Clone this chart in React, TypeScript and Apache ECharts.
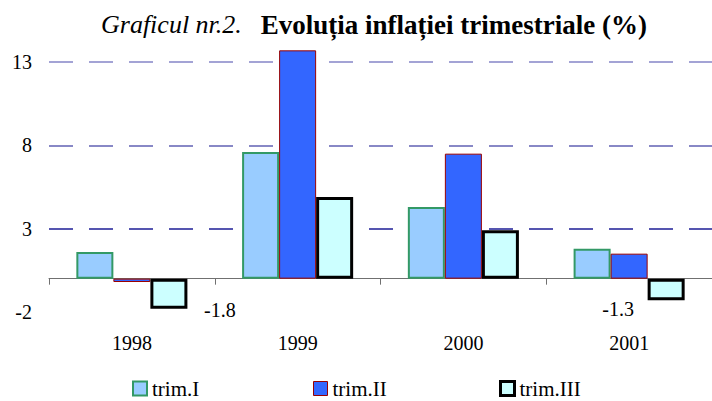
import React, { useEffect, useRef } from 'react';
import * as echarts from 'echarts';

const years = ['1998', '1999', '2000', '2001'];
const seriesNames = ['trim.I', 'trim.II', 'trim.III'];
const trimI = [1.6, 7.6, 4.3, 1.8];
const trimII = [-0.2, 13.7, 7.5, 1.5];
const trimIII = [-1.8, 4.9, 2.9, -1.3];
const yMin = -2;
const yMax = 13;
const yInterval = 5;

const FONT = "'Liberation Serif', 'Times New Roman', serif";

const styles = [
  { color: '#99ccff', borderColor: '#339966', borderWidth: 2 },
  { color: '#3366ff', borderColor: '#990000', borderWidth: 1 },
  { color: '#ccffff', borderColor: '#000000', borderWidth: 3 },
];

export default function App() {
  const ref = useRef<HTMLDivElement>(null);
  useEffect(() => {
    if (!ref.current) return;
    const chart = echarts.init(ref.current, undefined, { renderer: 'svg' });
    const legendCommon = {
      icon: 'rect',
      itemWidth: 14,
      itemHeight: 14,
      padding: 0,
      itemGap: 0,
      top: 378,
      textStyle: { fontSize: 21, fontFamily: FONT, color: '#000' },
    };
    const legendLefts = [132, 313, 499];
    const trimIIIData = trimIII.map((v, i) => {
      if (i === 0) {
        return { value: v, label: { show: true, position: 'bottom', distance: 0, offset: [51, -9] } };
      }
      if (i === 3) {
        return { value: v, label: { show: true, position: 'bottom', distance: 0, offset: [-48, -1] } };
      }
      return { value: v };
    });
    const dataSets = [trimI, trimII, trimIIIData];
    chart.setOption({
      animation: false,
      backgroundColor: '#fff',
      textStyle: { fontFamily: FONT },
      title: {
        text: '{a|Graficul nr.2.}{s|    }{b|Evoluția inflației trimestriale (%)}',
        left: 101,
        top: 11,
        padding: 0,
        textStyle: {
          fontWeight: 'normal',
          fontFamily: FONT,
          rich: {
            a: { fontSize: 26, fontStyle: 'italic', fontWeight: 'normal', fontFamily: FONT, color: '#000' },
            s: { fontSize: 19, fontWeight: 'normal', fontFamily: FONT, color: '#000' },
            b: { fontSize: 27, fontWeight: 'bold', fontFamily: FONT, color: '#000' },
          },
        },
      },
      legend: seriesNames.map((n, i) => ({
        ...legendCommon,
        left: legendLefts[i],
        data: [{ name: n, itemStyle: styles[i] }],
      })),
      grid: { left: 49, right: -5, top: 62, bottom: 89, containLabel: false },
      xAxis: {
        type: 'category',
        data: years,
        axisLine: { onZero: true, lineStyle: { color: '#707070', width: 1 } },
        axisTick: { show: true, length: 6, lineStyle: { color: '#707070' } },
        axisLabel: { margin: 21, fontSize: 20, fontFamily: FONT, color: '#000' },
        splitLine: { show: false },
      },
      yAxis: {
        type: 'value',
        min: yMin,
        max: yMax,
        interval: yInterval,
        axisLine: { show: false },
        axisTick: { show: false },
        axisLabel: { margin: 17, fontSize: 20, fontFamily: FONT, color: '#000' },
        splitLine: {
          show: true,
          lineStyle: {
            color: ['rgba(0,0,0,0)', '#1e1e96', '#6262b4', '#8585c8'],
            width: 1.5,
            type: [24, 16],
          },
        },
      },
      series: seriesNames.map((n, i) => ({
        name: n,
        type: 'bar',
        data: dataSets[i],
        barGap: '0%',
        barCategoryGap: '33%',
        clip: false,
        itemStyle: styles[i],
        label: { show: false, fontSize: 20, fontFamily: FONT, color: '#000' },
      })),
    });
    return () => chart.dispose();
  }, []);
  return (
    <div
      ref={ref}
      style={{ position: 'fixed', left: 0, top: 0, width: 712, height: 401, background: '#fff' }}
    />
  );
}
